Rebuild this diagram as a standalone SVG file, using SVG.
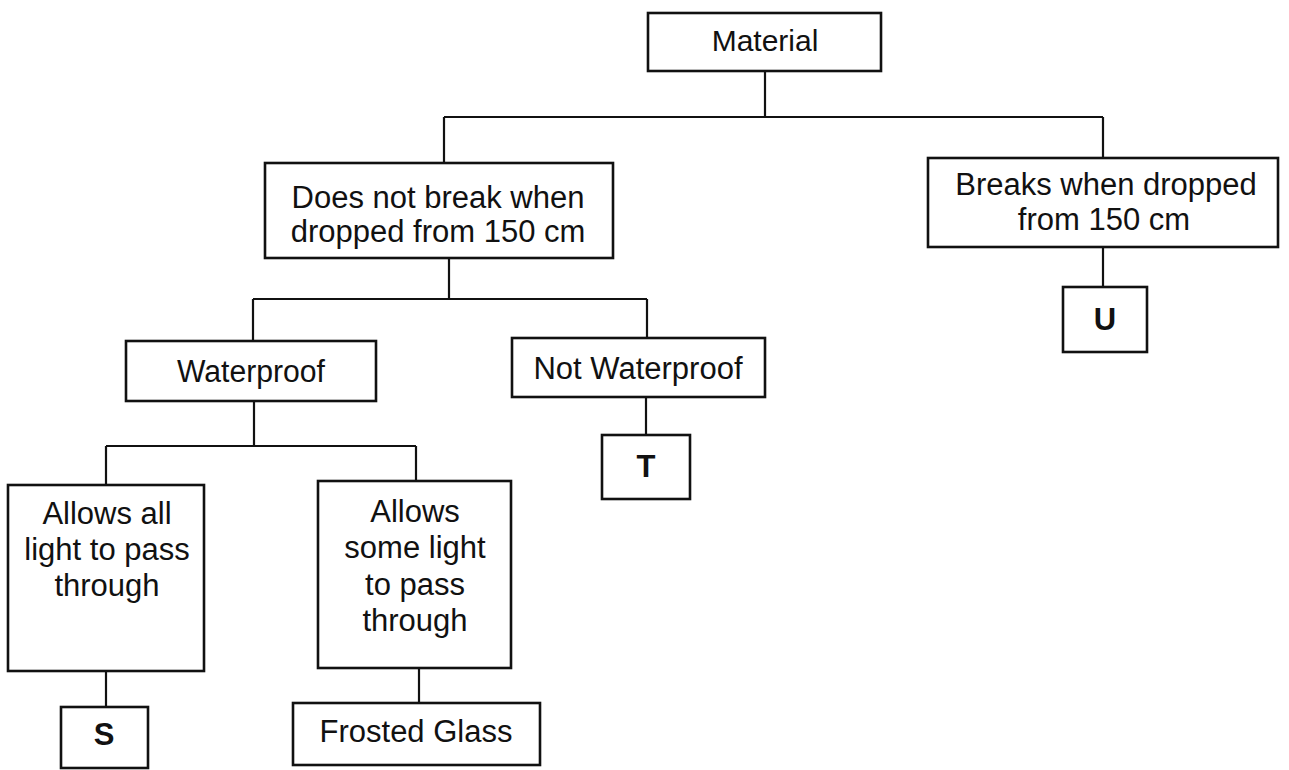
<svg xmlns="http://www.w3.org/2000/svg" width="1289" height="770" viewBox="0 0 1289 770">
<style>
.box{fill:#fff;stroke:#111;stroke-width:2.6}
.ln{fill:none;stroke:#111;stroke-width:2.2}
.t{font-family:"Liberation Sans",Arial,sans-serif;font-size:31px;fill:#111;text-anchor:middle}
.b{font-weight:bold}
</style>
<rect width="1289" height="770" fill="#fff"/>
<g id="connectors">
<path class="ln" d="M765,71 V117 M444,117 H1103 M444,117 V163 M1103,117 V158"/>
<path class="ln" d="M449,258 V299 M253,299 H647 M253,299 V341 M647,299 V338"/>
<path class="ln" d="M254,401 V446 M106,446 H416 M106,446 V485 M416,446 V481"/>
<path class="ln" d="M646,397 V435"/>
<path class="ln" d="M1103,247 V287"/>
<path class="ln" d="M106,671 V707"/>
<path class="ln" d="M419,668 V703"/>
</g>
<g id="material">
<rect class="box" x="648" y="13" width="233" height="58"/>
<text class="t" x="765" y="51" style="font-size:30px">Material</text>
</g>
<g id="no-break">
<rect class="box" x="265" y="163" width="348" height="95"/>
<text class="t" x="438" y="208">Does not break when</text>
<text class="t" x="438" y="242">dropped from 150 cm</text>
</g>
<g id="breaks">
<rect class="box" x="928" y="158" width="350" height="89"/>
<text class="t" x="1106" y="195">Breaks when dropped</text>
<text class="t" x="1104" y="230">from 150 cm</text>
</g>
<g id="u">
<rect class="box" x="1063" y="287" width="84" height="65"/>
<text class="t b" x="1105" y="330">U</text>
</g>
<g id="waterproof">
<rect class="box" x="126" y="341" width="250" height="60"/>
<text class="t" x="251" y="382" textLength="148" lengthAdjust="spacingAndGlyphs">Waterproof</text>
</g>
<g id="not-waterproof">
<rect class="box" x="512" y="338" width="253" height="59"/>
<text class="t" x="638" y="379">Not Waterproof</text>
</g>
<g id="t">
<rect class="box" x="602" y="435" width="88" height="64"/>
<text class="t b" x="646" y="477">T</text>
</g>
<g id="allows-all">
<rect class="box" x="8" y="485" width="196" height="186"/>
<text class="t" x="107" y="524">Allows all</text>
<text class="t" x="107" y="560">light to pass</text>
<text class="t" x="107" y="596">through</text>
</g>
<g id="s">
<rect class="box" x="61" y="707" width="87" height="61"/>
<text class="t b" x="104" y="745">S</text>
</g>
<g id="allows-some">
<rect class="box" x="318" y="481" width="193" height="187"/>
<text class="t" x="415" y="522">Allows</text>
<text class="t" x="415" y="558">some light</text>
<text class="t" x="415" y="595">to pass</text>
<text class="t" x="415" y="631">through</text>
</g>
<g id="frosted-glass">
<rect class="box" x="293" y="703" width="247" height="62"/>
<text class="t" x="416" y="742">Frosted Glass</text>
</g>
</svg>
